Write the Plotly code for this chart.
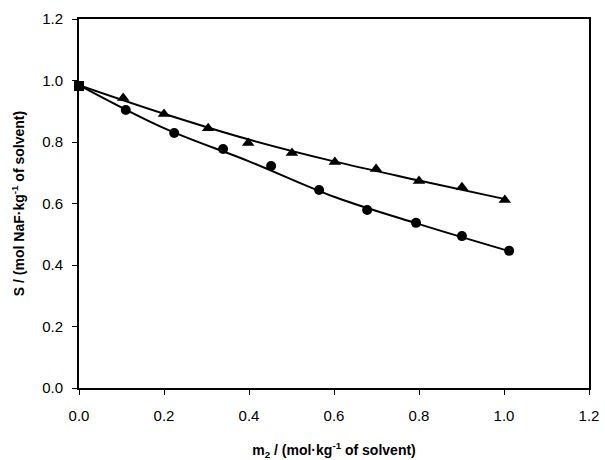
import plotly.graph_objects as go

# data
tri_x = [0.104, 0.2, 0.304, 0.398, 0.501, 0.602, 0.699, 0.8, 0.901, 1.002]
tri_y = [0.943, 0.891, 0.845, 0.797, 0.764, 0.735, 0.712, 0.673, 0.653, 0.611]
cir_x = [0.11, 0.224, 0.339, 0.452, 0.565, 0.678, 0.793, 0.901, 1.012]
cir_y = [0.904, 0.829, 0.777, 0.722, 0.644, 0.579, 0.537, 0.494, 0.446]
sq_x = [0.0]
sq_y = [0.982]
# fitted curves
tri_fit_x = [0.0, 0.2, 0.4, 0.6, 0.8, 1.0]
tri_fit_y = [0.985, 0.892, 0.808, 0.737, 0.675, 0.615]
cir_fit_x = [0.0, 0.2, 0.4, 0.6, 0.8, 1.01]
cir_fit_y = [0.985, 0.845, 0.737, 0.622, 0.533, 0.446]
x_ticks = [0.0, 0.2, 0.4, 0.6, 0.8, 1.0, 1.2]
y_ticks = [0.0, 0.2, 0.4, 0.6, 0.8, 1.0, 1.2]

FONT = "Liberation Sans, Arial"
fig = go.Figure()
for fx, fy in [(tri_fit_x, tri_fit_y), (cir_fit_x, cir_fit_y)]:
    fig.add_trace(go.Scatter(x=fx, y=fy, mode="lines", line_shape="spline",
                             line=dict(color="black", width=2), showlegend=False,
                             hoverinfo="skip"))
fig.add_trace(go.Scatter(x=cir_x, y=cir_y, mode="markers",
                         marker=dict(symbol="circle", size=10, color="black"), showlegend=False))
fig.add_trace(go.Scatter(x=tri_x, y=tri_y, mode="markers",
                         marker=dict(symbol="triangle-up", size=11, color="black"), showlegend=False))
fig.add_trace(go.Scatter(x=sq_x, y=sq_y, mode="markers", cliponaxis=False,
                         marker=dict(symbol="square", size=10, color="black"), showlegend=False))

axis_common = dict(
    showgrid=False, zeroline=False, showline=True, linecolor="black", linewidth=2,
    mirror=True, ticks="outside", ticklen=5, tickwidth=1, tickcolor="black",
    tickfont=dict(family=FONT, size=15, color="black"),
    tickformat=".1f", automargin=False,
)
fig.update_xaxes(range=[0, 1.2], tickvals=x_ticks, ticklabelstandoff=8,
                 title=dict(text="<b>m<sub>2</sub> / (mol·kg<sup>-1</sup> of solvent)</b>",
                            font=dict(family=FONT, size=14, color="black"),
                            standoff=23),
                 **axis_common)
fig.update_yaxes(range=[0, 1.2], tickvals=y_ticks, ticklabelstandoff=6,
                 title=dict(text="<b>S / (mol NaF·kg<sup>-1</sup> of solvent)</b>",
                            font=dict(family=FONT, size=14, color="black"),
                            standoff=14),
                 **axis_common)
fig.update_layout(
    width=605, height=460,
    margin=dict(l=79, r=16, t=19, b=72),
    plot_bgcolor="white", paper_bgcolor="white",
)
fig.write_html("out.html", config={"displayModeBar": False},
               post_script="document.body.style.margin='0';document.body.style.overflow='hidden';")
